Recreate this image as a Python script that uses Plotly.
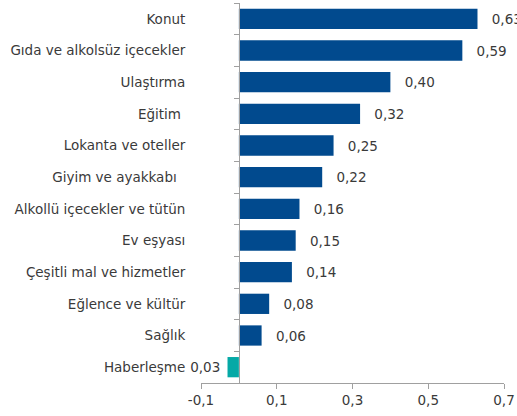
import plotly.graph_objects as go

categories = ["Konut", "Gıda ve alkolsüz içecekler", "Ulaştırma", "Eğitim\u00a0",
              "Lokanta ve oteller", "Giyim ve ayakkabı\u00a0\u00a0", "Alkollü içecekler ve tütün",
              "Ev eşyası", "Çeşitli mal ve hizmetler", "Eğlence ve kültür", "Sağlık", "Haberleşme"]
values = [0.63, 0.59, 0.40, 0.32, 0.25, 0.22, 0.16, 0.15, 0.14, 0.08, 0.06, -0.03]
value_labels = ["0,63", "0,59", "0,40", "0,32", "0,25", "0,22", "0,16", "0,15", "0,14", "0,08", "0,06", "0,03"]
x_ticks = [-0.1, 0.1, 0.3, 0.5, 0.7]
x_tick_labels = ["-0,1", "0,1", "0,3", "0,5", "0,7"]

BLUE = "#014A8E"
TEAL = "#05A9A6"
colors = [BLUE if v >= 0 else TEAL for v in values]
NB = "\u00a0"
shown = [(NB * 2 + "\u2009" + t) if v >= 0 else (t + NB) for t, v in zip(value_labels, values)]

FONT = "DejaVu Sans"
FS = 13.5
TXT = "#3a3a3a"
AX = "#a0a0a0"

n = len(categories)
fig = go.Figure()
fig.add_trace(go.Bar(
    x=values, y=categories, orientation="h",
    marker=dict(color=colors, line=dict(width=0)),
    text=shown, textposition="outside", cliponaxis=False,
    textfont=dict(family=FONT, size=FS, color=TXT),
    width=0.64, hoverinfo="skip",
))
# helper trace so the zero-line axis carries the category boundary ticks
fig.add_trace(go.Scatter(
    x=[0] * n, y=categories, yaxis="y2", mode="markers",
    marker=dict(opacity=0), hoverinfo="skip", showlegend=False,
))

fig.update_layout(
    width=517, height=416,
    margin=dict(l=201, r=13, t=3, b=33, autoexpand=False),
    paper_bgcolor="white", plot_bgcolor="white",
    showlegend=False,
    font=dict(family=FONT, size=FS, color=TXT),
    xaxis=dict(range=[-0.1, 0.7], tickvals=x_ticks, ticktext=x_tick_labels,
               showgrid=False, zeroline=False, showline=True, linecolor=AX, linewidth=1,
               ticks="outside", ticklen=5, tickcolor=AX, tickwidth=1, automargin=False,
               tickfont=dict(family=FONT, size=FS, color=TXT)),
    yaxis=dict(range=[n - 0.5, -0.5], showgrid=False, zeroline=False, showline=False,
               ticks="outside", ticklen=12, tickcolor="rgba(0,0,0,0)", automargin=False,
               tickfont=dict(family=FONT, size=FS, color=TXT)),
    yaxis2=dict(overlaying="y", matches="y", type="category", anchor="free", position=0.125,
                showgrid=False, zeroline=False, showline=True, linecolor=AX, linewidth=1,
                ticks="outside", ticklen=5, tickcolor=AX, tickwidth=1, tickson="boundaries",
                showticklabels=False, automargin=False),
)

fig.write_html("out.html", config={"displayModeBar": False},
               post_script="document.body.style.margin='0';")
